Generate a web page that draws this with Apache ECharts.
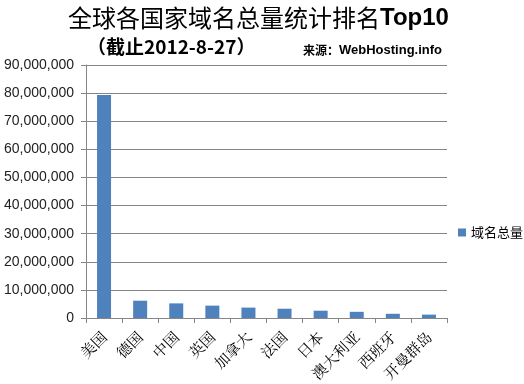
<!DOCTYPE html>
<html><head><meta charset="utf-8">
<script src="https://cdn.jsdelivr.net/npm/echarts@6/dist/echarts.min.js"></script>
<style>html,body{margin:0;padding:0;background:#fff}#c{width:524px;height:384px}</style>
</head><body><div id="c"></div>
<script>
const categories = ['美国','德国','中国','英国','加拿大','法国','日本','澳大利亚','西班牙','开曼群岛'];
const values = [79300000, 6150000, 5200000, 4400000, 3700000, 3300000, 2600000, 2200000, 1500000, 1200000];
const seriesName = '域名总量';
const yTicks = {min: 0, max: 90000000, interval: 10000000};

const chart = echarts.init(document.getElementById('c'));
chart.setOption({
  animation: false,
  title: [
    {text: '{a|全球各国家域名总量统计排名}{b|Top10}', left: 63, top: 1,
     textStyle: {rich: {
       a: {fontFamily: '"Noto Sans CJK SC"', fontSize: 24, fontWeight: 'normal', color: '#000'},
       b: {fontFamily: 'Arial, "Liberation Sans"', fontSize: 24, fontWeight: 'bold', color: '#000'}
     }}},
    {text: '（截止2012-8-27）', left: 82, top: 32,
     textStyle: {fontFamily: '"Noto Sans CJK SC", Arial', fontSize: 19, fontWeight: 'bold', color: '#000'}},
    {text: '{a|来源：}{b|WebHosting.info}', left: 298, top: 39,
     textStyle: {rich: {
       a: {fontFamily: '"Noto Sans CJK SC"', fontSize: 12, fontWeight: 'bold', color: '#000'},
       b: {fontFamily: 'Arial, "Liberation Sans"', fontSize: 13, fontWeight: 'bold', color: '#000'}
     }}}
  ],
  legend: {
    data: [seriesName], orient: 'vertical', left: 453, top: 221,
    itemWidth: 8, itemHeight: 8, itemGap: 4, icon: 'rect',
    textStyle: {fontFamily: '"Noto Sans CJK SC"', fontSize: 13, color: '#000'}
  },
  grid: {left: 86, right: 77, top: 65, bottom: 66, containLabel: false},
  xAxis: {
    type: 'category', data: categories,
    axisLine: {lineStyle: {color: '#868686'}},
    axisTick: {show: true, alignWithLabel: false, length: 5, lineStyle: {color: '#868686'}},
    axisLabel: {rotate: 45, interval: 0, fontFamily: '"Noto Serif CJK SC", "Noto Sans CJK SC"', fontSize: 15, color: '#000', margin: 16}
  },
  yAxis: {
    type: 'value', min: yTicks.min, max: yTicks.max, interval: yTicks.interval,
    axisLine: {show: true, lineStyle: {color: '#868686'}},
    axisTick: {show: true, inside: false, length: 5, lineStyle: {color: '#868686'}},
    splitLine: {lineStyle: {color: '#868686'}},
    axisLabel: {fontFamily: '"Liberation Sans", Arial', fontSize: 14, color: '#222', margin: 12,
      formatter: v => v.toLocaleString('en-US')}
  },
  series: [{
    name: seriesName, type: 'bar', data: values, barWidth: 14,
    itemStyle: {color: '#4F81BD'}
  }]
});
</script></body></html>
